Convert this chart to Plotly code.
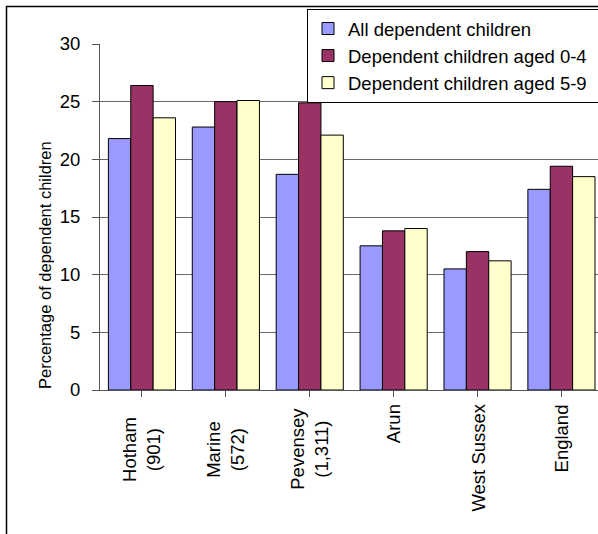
import plotly.graph_objects as go

categories = ["Hotham<br>(901)", "Marine<br>(572)", "Pevensey<br>(1,311)", "Arun", "West Sussex", "England"]
series_names = ["All dependent children", "Dependent children aged 0-4", "Dependent children aged 5-9"]
all_children = [21.8, 22.8, 18.7, 12.5, 10.5, 17.4]
aged_0_4 = [26.4, 25.0, 24.9, 13.8, 12.0, 19.4]
aged_5_9 = [23.6, 25.1, 22.1, 14.0, 11.2, 18.5]
y_ticks = [0, 5, 10, 15, 20, 25, 30]
y_title = "Percentage of dependent children"

colors = ["#9999FF", "#993366", "#FFFFCC"]
FONT = "Liberation Sans, Arial, sans-serif"

W, H = 598, 534
L, R, T, B = 100, 0, 44, 144
plot_w = W - L - R
plot_h = H - T - B
cat_w = 83.9

def px_x(px):
    return (px - L) / plot_w

def px_y(py):
    return (H - B - py) / plot_h

fig = go.Figure()
for name, vals, col in zip(series_names, [all_children, aged_0_4, aged_5_9], colors):
    fig.add_trace(go.Bar(
        x=list(range(len(categories))), y=vals, name=name,
        marker=dict(color=col, line=dict(color="#000000", width=1)),
    ))

# category labels as rotated, centred text
for i, c in enumerate(categories):
    two_line = "<br>" in c
    fig.add_annotation(
        x=i, xref="x", y=px_y(449 if two_line else 402), yref="paper",
        text=c, textangle=-90, showarrow=False, align="center",
        xanchor="center", yanchor="middle" if two_line else "top",
        font=dict(family=FONT, size=18.5, color="#000000"),
    )

# y-axis title (placed lower than plot centre, as in the original)
fig.add_annotation(
    x=px_x(45), xref="paper", y=px_y(265), yref="paper",
    text=y_title, textangle=-90, showarrow=False,
    xanchor="center", yanchor="middle",
    font=dict(family=FONT, size=16.5, color="#000000"),
)

# outer chart border
fig.add_shape(type="rect", xref="paper", yref="paper",
              x0=px_x(6.5), x1=px_x(640), y0=px_y(6.5), y1=px_y(600),
              line=dict(color="#000000", width=1.5), layer="below")

fig.update_layout(
    width=W, height=H,
    margin=dict(l=L, r=R, t=T, b=B, autoexpand=False),
    paper_bgcolor="white", plot_bgcolor="white",
    barmode="group", bargap=0.2, bargroupgap=0,
    font=dict(family=FONT, size=18, color="#000000"),
    showlegend=True,
    legend=dict(
        orientation="h",
        x=px_x(307), y=px_y(9), xanchor="left", yanchor="top",
        bgcolor="white", bordercolor="#000000", borderwidth=1,
        font=dict(family=FONT, size=18.5, color="#000000"),
        traceorder="normal",
        entrywidth=260, entrywidthmode="pixels",
    ),
    xaxis=dict(
        range=[-0.5, -0.5 + (W - L) / cat_w],
        tickmode="array", tickvals=list(range(len(categories))),
        ticktext=[""] * len(categories),
        showticklabels=False,
        tickson="boundaries", ticks="outside", ticklen=6, tickcolor="#555555",
        showline=True, linecolor="#555555", linewidth=1,
        showgrid=False, zeroline=False, fixedrange=True,
    ),
    yaxis=dict(
        range=[0, 30], tickvals=y_ticks,
        ticks="outside", ticklen=7, tickcolor="#555555",
        ticklabelstandoff=8,
        showline=True, linecolor="#555555", linewidth=1,
        showgrid=True, gridcolor="#6a6a6a", gridwidth=1,
        zeroline=False,
        tickfont=dict(family=FONT, size=18.5, color="#000000"),
    ),
)

fig.write_html("out.html", config={"displayModeBar": False},
               post_script="document.body.style.margin='0';document.body.style.overflow='hidden';")
